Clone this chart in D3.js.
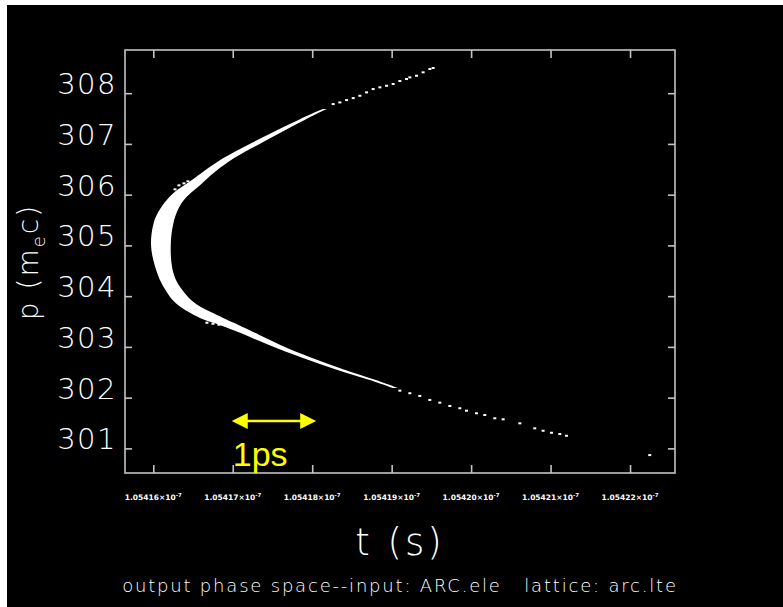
<!DOCTYPE html>
<html><head><meta charset="utf-8">
<script src="https://cdn.jsdelivr.net/npm/d3@7"></script>
<style>html,body{margin:0;padding:0;background:#fff;}svg{display:block;}</style>
</head><body>
<svg id="c" width="783" height="607"></svg>
<script>
// ---- data (t in picoseconds, p in m_e c) ----
const pTicks = [301, 302, 303, 304, 305, 306, 307, 308];
const tTicks = [105416, 105417, 105418, 105419, 105420, 105421, 105422];

// dense core of the beam: momentum rows with outer (early) and inner (late) time edges
const bandP     = [307.69, 307.49, 307.19, 306.90, 306.66, 306.40, 306.26, 306.10, 305.91, 305.67, 305.45, 305.22, 305.02, 304.80, 304.58, 304.33, 304.13, 303.93, 303.79, 303.67, 303.53, 303.44, 303.28, 303.04, 302.78, 302.55, 302.35, 302.19];
const bandTOut  = [105418.135, 105417.845, 105417.449, 105417.091, 105416.808, 105416.587, 105416.462, 105416.298, 105416.169, 105416.059, 105416.000, 105415.975, 105415.967, 105415.984, 105416.021, 105416.075, 105416.147, 105416.231, 105416.336, 105416.462, 105416.625, 105416.839, 105417.091, 105417.443, 105417.877, 105418.298, 105418.726, 105419.015];
const bandTIn   = [105418.185, 105417.921, 105417.562, 105417.216, 105416.946, 105416.738, 105416.638, 105416.525, 105416.377, 105416.294, 105416.252, 105416.226, 105416.219, 105416.219, 105416.231, 105416.273, 105416.357, 105416.462, 105416.587, 105416.750, 105416.927, 105417.066, 105417.280, 105417.582, 105417.990, 105418.399, 105418.801, 105419.078];

// sparse particles in the tails and halo
const dotT = [105418.264, 105418.348, 105418.433, 105418.516, 105418.600, 105418.684, 105418.767, 105418.852, 105418.936, 105419.019, 105419.103, 105419.187, 105419.229, 105419.313, 105419.396, 105419.481, 105419.522,
              105419.103, 105419.229, 105419.354, 105419.480, 105419.606, 105419.732, 105419.858, 105419.942, 105420.068, 105420.172, 105420.298, 105420.403, 105420.613, 105420.801, 105420.906, 105421.011, 105421.116, 105421.200, 105422.248,
              105416.323, 105416.386, 105416.273, 105416.436, 105416.675, 105416.751, 105416.826];
const dotP = [307.785, 307.818, 307.864, 307.903, 307.949, 308.016, 308.081, 308.115, 308.146, 308.180, 308.239, 308.279, 308.312, 308.344, 308.411, 308.476, 308.496,
              302.138, 302.087, 302.034, 301.955, 301.901, 301.836, 301.791, 301.743, 301.692, 301.658, 301.593, 301.573, 301.494, 301.395, 301.348, 301.308, 301.283, 301.249, 300.868,
              306.184, 306.223, 306.105, 306.263, 303.476, 303.457, 303.437];

const scaleBarT = [105417, 105418];
const scaleBarP = 301.54;

// ---- drawing ----
const svg = d3.select("#c");
const X0 = 125, X1 = 675, Y0 = 50, Y1 = 473;
const x = d3.scaleLinear().domain([105415.644, 105422.566]).range([X0, X1]);
const y = d3.scaleLinear().domain([300.515, 308.851]).range([Y1, Y0]);
const frameCol = "#c4c4c4", textCol = "#ffffff";

svg.append("rect").attr("x", 7).attr("y", 5).attr("width", 776).attr("height", 602).attr("fill", "#000");

// beam core
const band = bandP.map((p, i) => ({p, a: bandTOut[i], b: bandTIn[i]}));
svg.append("path").datum(band)
  .attr("d", d3.area().y(d => y(d.p)).x0(d => x(d.a)).x1(d => x(d.b)).curve(d3.curveBasis))
  .attr("fill", "#fff");

svg.append("g").selectAll("rect").data(dotT.map((t, i) => [t, dotP[i]])).join("rect")
  .attr("x", d => x(d[0]) - 1.5).attr("y", d => y(d[1]) - 1)
  .attr("width", 3).attr("height", 2).attr("fill", "#fff");

// frame
svg.append("rect").attr("x", X0).attr("y", Y0).attr("width", X1 - X0).attr("height", Y1 - Y0)
  .attr("fill", "none").attr("stroke", frameCol).attr("stroke-width", 1.6);

// axes (ticks inside)
const gB = svg.append("g").attr("transform", `translate(0,${Y1})`)
  .call(d3.axisTop(x).tickValues(tTicks).tickSize(8).tickFormat(""));
const gT = svg.append("g").attr("transform", `translate(0,${Y0})`)
  .call(d3.axisBottom(x).tickValues(tTicks).tickSize(8).tickFormat(""));
const gL = svg.append("g").attr("transform", `translate(${X0},0)`)
  .call(d3.axisRight(y).tickValues(pTicks).tickSize(7).tickFormat(""));
const gR = svg.append("g").attr("transform", `translate(${X1},0)`)
  .call(d3.axisLeft(y).tickValues(pTicks).tickSize(7).tickFormat(""));
[gB, gT, gL, gR].forEach(g => {
  g.select(".domain").remove();
  g.selectAll(".tick line").attr("stroke", frameCol).attr("stroke-width", 1.6);
});

// y tick labels
svg.append("g").selectAll("text").data(pTicks).join("text")
  .attr("x", 117).attr("y", d => y(d) + 1)
  .attr("text-anchor", "end")
  .attr("font-family", "DejaVu Sans").attr("font-weight", 200).attr("font-size", 29)
  .attr("letter-spacing", 1.5)
  .attr("fill", textCol).text(d => d);

// x tick labels
const xl = svg.append("g").selectAll("text").data(tTicks).join("text")
  .attr("x", d => x(d)).attr("y", 500)
  .attr("text-anchor", "middle")
  .attr("font-family", "DejaVu Sans").attr("font-weight", "bold").attr("font-size", 7.5)
  .attr("fill", "#fff");
xl.append("tspan").text(d => d3.format(".5f")(d / 100000) + "×10");
xl.append("tspan").attr("dy", -3).attr("font-size", 5.5).text("-7");

// axis titles
svg.append("text").attr("x", 400).attr("y", 555).attr("text-anchor", "middle")
  .attr("font-family", "DejaVu Sans").attr("font-weight", 200).attr("font-size", 37)
  .attr("letter-spacing", 3).attr("fill", textCol).text("t (s)");

const yt = svg.append("text").attr("transform", "translate(38,262) rotate(-90)")
  .attr("text-anchor", "middle")
  .attr("font-family", "DejaVu Sans").attr("font-weight", 200).attr("font-size", 28)
  .attr("letter-spacing", 2).attr("fill", textCol);
yt.append("tspan").text("p (m");
yt.append("tspan").attr("dy", 7).attr("font-size", 18).text("e");
yt.append("tspan").attr("dy", -7).text("c)");

svg.append("text").attr("x", 400).attr("y", 592).attr("text-anchor", "middle")
  .attr("font-family", "DejaVu Sans").attr("font-weight", 200).attr("font-size", 18)
  .attr("letter-spacing", 1.8)
  .attr("fill", textCol).attr("xml:space", "preserve")
  .text("output phase space--input: ARC.ele   lattice: arc.lte");

// 1 ps scale bar
const yb = y(scaleBarP), xa = x(scaleBarT[0]) - 1, xb = x(scaleBarT[1]) + 4;
const yellow = "#ffff00";
svg.append("line").attr("x1", xa + 10).attr("x2", xb - 10).attr("y1", yb).attr("y2", yb)
  .attr("stroke", yellow).attr("stroke-width", 2.5);
svg.append("path").attr("d", `M${xa},${yb}L${xa + 16},${yb - 8}L${xa + 16},${yb + 8}Z`).attr("fill", yellow);
svg.append("path").attr("d", `M${xb},${yb}L${xb - 16},${yb - 8}L${xb - 16},${yb + 8}Z`).attr("fill", yellow);
svg.append("text").attr("x", xa + 1).attr("y", 466)
  .attr("font-family", "Liberation Sans").attr("font-size", 34)
  .attr("fill", yellow).text("1ps");
</script>
</body></html>
